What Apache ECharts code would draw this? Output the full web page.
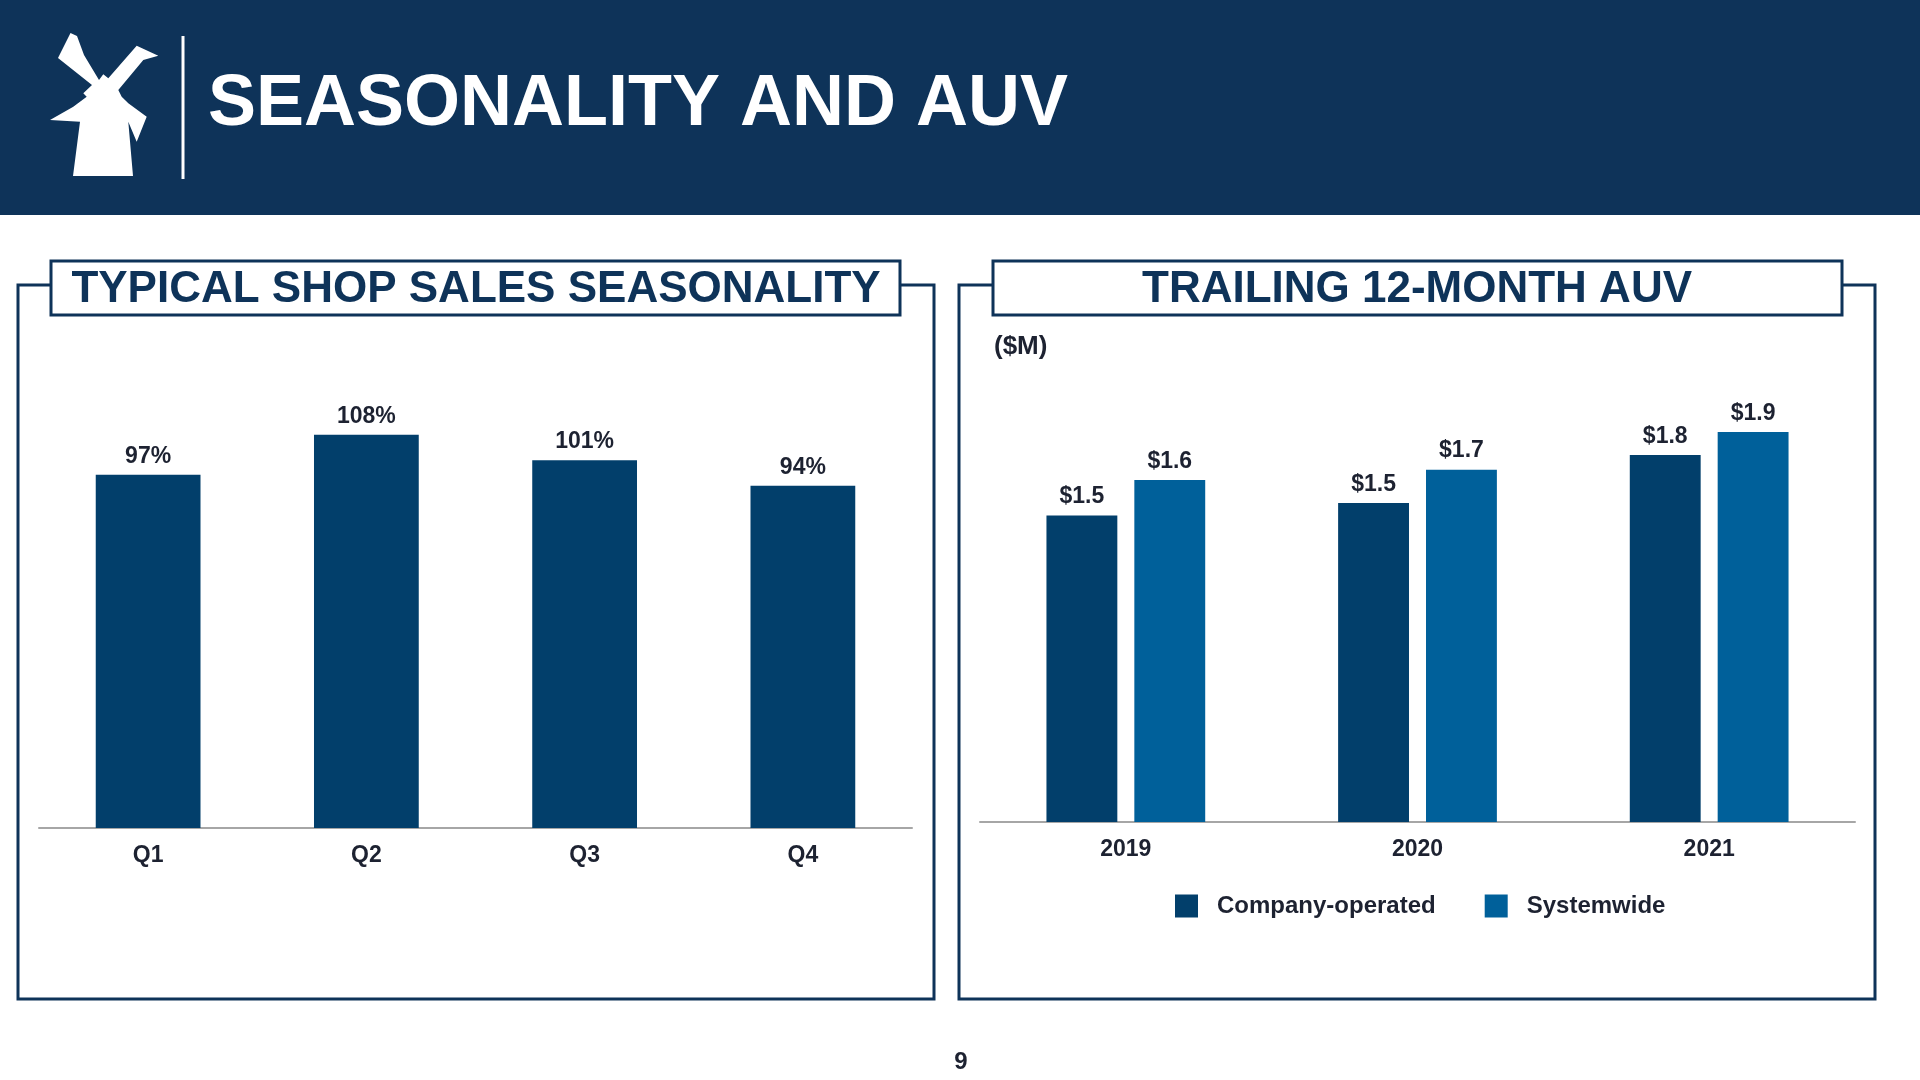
<!DOCTYPE html>
<html>
<head>
<meta charset="utf-8">
<script src="https://cdn.jsdelivr.net/npm/echarts@6/dist/echarts.min.js"></script>
<style>
html,body{margin:0;padding:0;background:#fff;}
#c{width:1920px;height:1080px;}
</style>
</head>
<body>
<div id="c"></div>
<script>
// ---- Data ----
const pageTitle = 'SEASONALITY AND AUV';
const leftTitle = 'TYPICAL SHOP SALES SEASONALITY';
const rightTitle = 'TRAILING 12-MONTH AUV';
const unitLabel = '($M)';
const pageNumber = '9';

const seasonCategories = ['Q1', 'Q2', 'Q3', 'Q4'];
const seasonValues = [97, 108, 101, 94];

const auvYears = ['2019', '2020', '2021'];
const seriesNames = ['Company-operated', 'Systemwide'];
const companyOperated = [1.47, 1.53, 1.76];
const systemwide = [1.64, 1.69, 1.87];

// ---- Style ----
const FONT = "'Liberation Sans', Arial, sans-serif";
const NAVY = '#0e3359';
const BAR_DARK = '#023f6b';
const BAR_LIGHT = '#00609a';
const TEXT = '#1d2231';
const AXIS = '#a6a6a6';

const chart = echarts.init(document.getElementById('c'), null, {renderer: 'canvas'});

const labelStyle = {fontFamily: FONT, fontWeight: 'bold', fontSize: 23, color: TEXT};

const logoPts = [
  [70.5,33],[77,36],[84,55],[99,80],[103.3,74.3],[108.3,78.3],[136.7,45.7],
  [158.3,55.7],[143.3,60],[118.3,90],[121.7,96.7],[128.3,103.3],[146.7,116.7],
  [136.7,141.7],[128.3,121.7],[133,176],[73,176],[80,121.7],[50,120],
  [73.3,106.7],[86.7,96.7],[83.3,93.3],[92,85],[58,58]
];

const option = {
  backgroundColor: '#ffffff',
  animation: false,
  textStyle: {fontFamily: FONT},
  graphic: [
    {type: 'rect', shape: {x: 0, y: 0, width: 1920, height: 215}, style: {fill: NAVY}, z: 1},
    {type: 'polygon', shape: {points: logoPts}, style: {fill: '#ffffff'}, z: 2},
    {type: 'line', shape: {x1: 183, y1: 36, x2: 183, y2: 179}, style: {stroke: '#ffffff', lineWidth: 3}, z: 2},
    {type: 'text', x: 208, y: 105, style: {text: pageTitle, fill: '#ffffff', font: 'bold 72px ' + FONT, textVerticalAlign: 'middle'}, z: 2},

    {type: 'rect', shape: {x: 18, y: 285, width: 916, height: 714}, style: {fill: 'none', stroke: NAVY, lineWidth: 3}, z: 1},
    {type: 'rect', shape: {x: 51, y: 261, width: 849, height: 54}, style: {fill: '#ffffff', stroke: NAVY, lineWidth: 3}, z: 2},
    {type: 'text', x: 476, y: 290, style: {text: leftTitle, fill: NAVY, font: 'bold 44px ' + FONT, textAlign: 'center', textVerticalAlign: 'middle'}, z: 3},

    {type: 'rect', shape: {x: 959, y: 285, width: 916, height: 714}, style: {fill: 'none', stroke: NAVY, lineWidth: 3}, z: 1},
    {type: 'rect', shape: {x: 993, y: 261, width: 849, height: 54}, style: {fill: '#ffffff', stroke: NAVY, lineWidth: 3}, z: 2},
    {type: 'text', x: 1417, y: 290, style: {text: rightTitle, fill: NAVY, font: 'bold 44px ' + FONT, textAlign: 'center', textVerticalAlign: 'middle'}, z: 3},

    {type: 'text', x: 994, y: 347, style: {text: unitLabel, fill: TEXT, font: 'bold 26px ' + FONT, textVerticalAlign: 'middle'}, z: 3},
    {type: 'text', x: 961, y: 1062, style: {text: pageNumber, fill: TEXT, font: 'bold 24px ' + FONT, textAlign: 'center', textVerticalAlign: 'middle'}, z: 3}
  ],
  legend: {
    data: [
      {name: seriesNames[0], icon: 'rect'},
      {name: seriesNames[1], icon: 'rect'}
    ],
    left: 1170,
    top: 889,
    itemWidth: 23,
    itemHeight: 23,
    itemGap: 49,
    selectedMode: false,
    textStyle: {fontFamily: FONT, fontWeight: 'bold', fontSize: 24, color: TEXT, padding: [0, 0, 0, 14]}
  },
  grid: [
    {left: 39, right: 1008, top: 391, bottom: 252, containLabel: false},
    {left: 980, right: 65, top: 363.3, bottom: 258, containLabel: false}
  ],
  xAxis: [
    {
      type: 'category', gridIndex: 0, data: seasonCategories,
      axisLine: {lineStyle: {color: AXIS, width: 2}},
      axisTick: {show: false},
      axisLabel: Object.assign({margin: 16}, labelStyle)
    },
    {
      type: 'category', gridIndex: 1, data: auvYears,
      axisLine: {lineStyle: {color: AXIS, width: 2}},
      axisTick: {show: false},
      axisLabel: Object.assign({margin: 16}, labelStyle)
    }
  ],
  yAxis: [
    {type: 'value', gridIndex: 0, min: 0, max: 120, show: false, splitLine: {show: false}},
    {type: 'value', gridIndex: 1, min: 0, max: 2.2, show: false, splitLine: {show: false}}
  ],
  series: [
    {
      type: 'bar', name: 'Seasonality', xAxisIndex: 0, yAxisIndex: 0,
      data: seasonValues, barWidth: '48%',
      itemStyle: {color: BAR_DARK},
      label: Object.assign({show: true, position: 'top', distance: 7, formatter: p => p.value + '%'}, labelStyle)
    },
    {
      type: 'bar', name: seriesNames[0], xAxisIndex: 1, yAxisIndex: 1,
      data: companyOperated, barWidth: '24.3%', barGap: '24%',
      itemStyle: {color: BAR_DARK},
      label: Object.assign({show: true, position: 'top', distance: 7, formatter: p => '$' + p.value.toFixed(1)}, labelStyle)
    },
    {
      type: 'bar', name: seriesNames[1], xAxisIndex: 1, yAxisIndex: 1,
      data: systemwide, barWidth: '24.3%', barGap: '24%',
      itemStyle: {color: BAR_LIGHT},
      label: Object.assign({show: true, position: 'top', distance: 7, formatter: p => '$' + p.value.toFixed(1)}, labelStyle)
    }
  ]
};

chart.setOption(option);
</script>
</body>
</html>
